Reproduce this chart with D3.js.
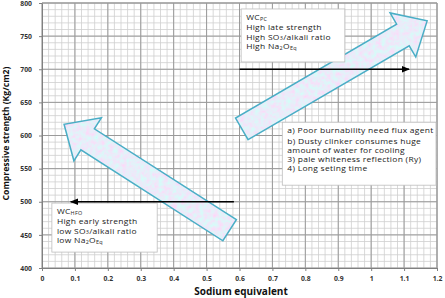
<!DOCTYPE html>
<html>
<head>
<meta charset="utf-8">
<script src="https://cdn.jsdelivr.net/npm/d3@7"></script>
<style>
  body { margin: 0; background: #fff; }
  text { font-family: "Open Sans", Lato, sans-serif; }
</style>
</head>
<body>
<svg id="chart"></svg>
<script>
// axis ticks
const xTicks = [0, 0.1, 0.2, 0.3, 0.4, 0.5, 0.6, 0.7, 0.8, 0.9, 1, 1.1, 1.2]
const yTicks = [400, 450, 500, 550, 600, 650, 700, 750, 800]

// big block arrows: [tailX, tailY] -> [tipX, tipY] in data units
const bigArrowTails = [[0.57, 457], [0.607, 610]]
const bigArrowTips = [[0.067, 617], [1.17, 773]]

// black line arrows
const lineArrowFrom = [[0.6, 700], [0.583, 500]]
const lineArrowTo = [[1.115, 700], [0.087, 500]]

// note boxes [x0, x1, y0(top), y1(bottom)] in data units
const noteBoxes = [[0.605, 0.92, 791, 711], [0.03, 0.35, 498, 424], [0.73, 1.197, 620, 525]]
// note lines, each line is a list of [text, kind] pieces (n = normal, s = subscript)
const noteLines = [
  [
    [['WC', 'n'], ['PC', 's']],
    [['High late strength', 'n']],
    [['High SO', 'n'], ['3', 's'], ['/alkali ratio', 'n']],
    [['High Na', 'n'], ['2', 's'], ['O', 'n'], ['Eq', 's']]
  ],
  [
    [['WC', 'n'], ['HFO', 's']],
    [['High early strength', 'n']],
    [['low SO', 'n'], ['3', 's'], ['/alkali ratio', 'n']],
    [['low Na', 'n'], ['2', 's'], ['O', 'n'], ['Eq', 's']]
  ],
  [
    [['a) Poor burnability  need flux agent', 'n']],
    [['b) Dusty clinker consumes huge', 'n']],
    [['amount  of water for cooling', 'n']],
    [['3) pale whiteness reflection  (Ry)', 'n']],
    [['4) Long seting time', 'n']]
  ]
]

const width = 445, height = 298
const margin = {top: 3, right: 8, bottom: 30, left: 42}

const svg = d3.select('#chart').attr('width', width).attr('height', height)

const xScale = d3.scaleLinear().domain([0, 1.2]).range([margin.left, width - margin.right])
const yScale = d3.scaleLinear().domain([400, 800]).range([height - margin.bottom, margin.top])

const defs = svg.append('defs')
const filt = defs.append('filter').attr('id', 'tex')
  .attr('x', 0).attr('y', 0).attr('width', 1).attr('height', 1)
filt.append('feTurbulence').attr('type', 'fractalNoise')
  .attr('baseFrequency', 0.22).attr('numOctaves', 3).attr('seed', 4).attr('result', 'n')
filt.append('feColorMatrix').attr('in', 'n').attr('type', 'matrix')
  .attr('values', '0.5 0 0 0 0.56  -0.45 0 0 0 1.07  0 0 0 0 0.95  0 0 0 0 1')
  .attr('result', 'c')
filt.append('feComposite').attr('in', 'c').attr('in2', 'SourceGraphic').attr('operator', 'in')

defs.append('marker').attr('id', 'head')
  .attr('viewBox', '0 0 10 10').attr('refX', 9).attr('refY', 5)
  .attr('markerWidth', 5.5).attr('markerHeight', 5.5).attr('orient', 'auto')
  .append('path').attr('d', 'M0,1 L10,5 L0,9 Z').attr('fill', '#000')

// grid
const minorX = d3.range(0, 1.2001, 0.02)
const minorY = d3.range(400, 800.1, 10)
const grid = svg.append('g')
grid.selectAll('.mx').data(minorX).enter().append('line')
  .attr('x1', d => xScale(d)).attr('x2', d => xScale(d))
  .attr('y1', yScale(400)).attr('y2', yScale(800))
  .attr('stroke', '#cfcfcf').attr('stroke-width', 0.8)
grid.selectAll('.my').data(minorY).enter().append('line')
  .attr('y1', d => yScale(d)).attr('y2', d => yScale(d))
  .attr('x1', xScale(0)).attr('x2', xScale(1.2))
  .attr('stroke', '#cfcfcf').attr('stroke-width', 0.8)
grid.selectAll('.Mx').data(xTicks).enter().append('line')
  .attr('x1', d => xScale(d)).attr('x2', d => xScale(d))
  .attr('y1', yScale(400)).attr('y2', yScale(800))
  .attr('stroke', '#9a9a9a').attr('stroke-width', 1)
grid.selectAll('.My').data(yTicks).enter().append('line')
  .attr('y1', d => yScale(d)).attr('y2', d => yScale(d))
  .attr('x1', xScale(0)).attr('x2', xScale(1.2))
  .attr('stroke', '#9a9a9a').attr('stroke-width', 1)

// axes
const xAxis = d3.axisBottom(xScale).tickValues(xTicks).tickSize(3)
  .tickFormat(d => d3.format('')(+d.toFixed(1)))
const gx = svg.append('g').attr('transform', 'translate(0,' + yScale(400) + ')').call(xAxis)
const yAxis = d3.axisLeft(yScale).tickValues(yTicks).tickSize(3)
const gy = svg.append('g').attr('transform', 'translate(' + xScale(0) + ',0)').call(yAxis)
;[gx, gy].forEach(g => {
  g.select('.domain').attr('stroke', '#808080')
  g.selectAll('.tick line').attr('stroke', '#808080')
  g.selectAll('text').attr('font-family', '"Open Sans", sans-serif')
    .attr('font-size', 6.8).attr('font-weight', 'bold').attr('fill', '#333')
})
gx.selectAll('text').attr('dy', '1.05em')
gy.selectAll('text').attr('dx', '-4')

svg.append('line')
  .attr('x1', xScale(0)).attr('x2', xScale(1.2)).attr('y1', yScale(800)).attr('y2', yScale(800))
  .attr('stroke', '#9a9a9a')
svg.append('line')
  .attr('x1', xScale(1.2)).attr('x2', xScale(1.2)).attr('y1', yScale(800)).attr('y2', yScale(400))
  .attr('stroke', '#9a9a9a')

svg.append('text').attr('x', 241).attr('y', 295)
  .attr('text-anchor', 'middle').attr('font-size', 10).attr('font-weight', 'bold')
  .attr('fill', '#111').text('Sodium equivalent')
svg.append('text')
  .attr('transform', 'translate(9,' + yScale(603) + ') rotate(-90)')
  .attr('text-anchor', 'middle').attr('font-size', 8.6).attr('font-weight', 'bold')
  .attr('fill', '#111').text('Compressive strength (Kg/cm2)')

// block arrows
const arrowShape = (tail, tip, w, hw, hl) => {
  const x0 = xScale(tail[0]), y0 = yScale(tail[1])
  const x1 = xScale(tip[0]), y1 = yScale(tip[1])
  const len = Math.hypot(x1 - x0, y1 - y0)
  const ux = (x1 - x0) / len, uy = (y1 - y0) / len
  const nx = -uy, ny = ux
  const bx = x1 - ux * hl, by = y1 - uy * hl
  const pts = [
    [x0 + nx * w / 2, y0 + ny * w / 2],
    [bx + nx * w / 2, by + ny * w / 2],
    [bx + nx * hw / 2, by + ny * hw / 2],
    [x1, y1],
    [bx - nx * hw / 2, by - ny * hw / 2],
    [bx - nx * w / 2, by - ny * w / 2],
    [x0 - nx * w / 2, y0 - ny * w / 2]
  ]
  return d3.line()(pts) + 'Z'
}
const bigData = bigArrowTails.map((t, i) => ({tail: t, tip: bigArrowTips[i]}))
const big = svg.append('g')
big.selectAll('.fill').data(bigData).enter().append('path')
  .attr('d', d => arrowShape(d.tail, d.tip, 25, 51, 28))
  .attr('fill', '#c9d4f2').attr('filter', 'url(#tex)')
big.selectAll('.edge').data(bigData).enter().append('path')
  .attr('d', d => arrowShape(d.tail, d.tip, 25, 51, 28))
  .attr('fill', 'none').attr('stroke', '#4aaec6').attr('stroke-width', 1.5)
  .attr('stroke-linejoin', 'miter')

// note boxes
noteBoxes.forEach((b, i) => {
  const g = svg.append('g')
  const bx = xScale(b[0]), by = yScale(b[2])
  g.append('rect').attr('x', bx).attr('y', by)
    .attr('width', xScale(b[1]) - bx).attr('height', yScale(b[3]) - by)
    .attr('fill', '#fff').attr('stroke', '#bdbdbd').attr('stroke-width', 0.8)
  noteLines[i].forEach((line, j) => {
    const ly = by + 12 + j * 9.3 - (j === 0 ? 1 : 0)
    const t = g.append('g')
      .attr('transform', 'translate(' + (bx + 5) + ',' + ly + ') scale(1.13,1)')
      .append('text').attr('font-family', 'Lato, sans-serif')
      .attr('font-size', 7.5).attr('fill', '#1a1a1a').attr('letter-spacing', 0.25)
    let shift = 0
    line.forEach(p => {
      const s = t.append('tspan').text(p[0])
      if (p[1] === 's') {
        s.attr('font-size', 4.8).attr('dy', 0.7 - shift)
        shift = 0.7
      } else {
        s.attr('dy', -shift)
        shift = 0
      }
    })
  })
})

// line arrows
svg.selectAll('.la').data(lineArrowFrom).enter().append('line')
  .attr('x1', d => xScale(d[0])).attr('y1', d => yScale(d[1]))
  .attr('x2', (d, i) => xScale(lineArrowTo[i][0])).attr('y2', (d, i) => yScale(lineArrowTo[i][1]))
  .attr('stroke', '#000').attr('stroke-width', 1.5).attr('marker-end', 'url(#head)')
</script>
</body>
</html>
